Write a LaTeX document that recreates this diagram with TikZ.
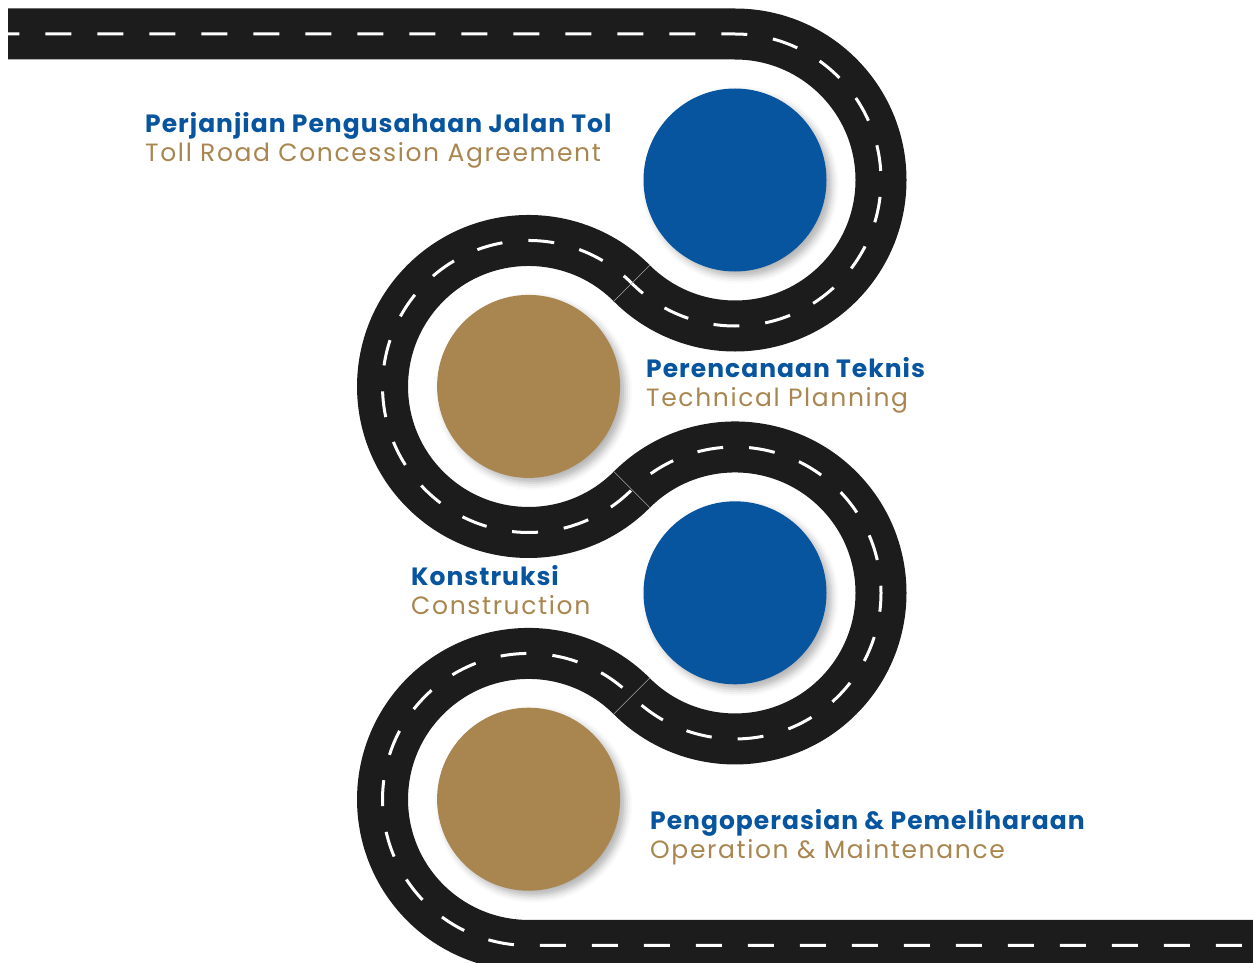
\documentclass[tikz,border=0pt]{standalone}
\usepackage{fontspec}
\setmainfont{Poppins}
\newfontfamily\titlefont[LetterSpace=4]{Poppins}
\newfontfamily\subtitlefont[LetterSpace=6.5]{Poppins}
\usetikzlibrary{calc, shadows.blur}

\definecolor{roadblack}{HTML}{1C1C1C}
\definecolor{tollblue}{HTML}{07549F}
\definecolor{tollgold}{HTML}{A98650}

\tikzset{
	road/.style={draw=roadblack, line width=51pt},
	lane/.style={draw=white, line width=3pt, dash pattern=on 26pt off 26pt, dash phase=14.7pt},
	seam/.style={draw=gray!70, line width=0.6pt},
	stop/.style={circle, minimum size=183pt, inner sep=0pt,
		blur shadow={shadow xshift=5pt, shadow yshift=-5pt, shadow blur radius=7pt, shadow opacity=30}},
	title/.style={anchor=base west, inner sep=0pt, text=tollblue, font=\titlefont\fontsize{25}{29}\selectfont\bfseries},
	subtitle/.style={anchor=base west, inner sep=0pt, text=tollgold, font=\subtitlefont\fontsize{25}{29}\selectfont},
}

\newcommand\roadpath{(road-start) -- (bend-1 |- road-start)
	arc[start angle=-90, end angle=135, radius=146]
	arc[start angle=-45, end angle=-315, radius=146]
	arc[start angle=225, end angle=495, radius=146]
	arc[start angle=-45, end angle=-270, radius=146]
	-- ++(740,0)}

\begin{document}
\begin{tikzpicture}[x=1pt, y=-1pt]
	\useasboundingbox (0,0) rectangle (1253,963);

	\coordinate (road-start) at (8,34);
	\foreach \x/\y [count=\k] in {735/180, 528.6/386.4, 735/592.8, 528.6/799.2}
	\coordinate (bend-\k) at (\x,\y);

	\draw [road] \roadpath;
	\draw [lane] \roadpath;

	\foreach \i [evaluate=\i as \j using int(\i+1)] in {1,2,3}
	\draw [seam] ($(bend-\i)!120pt!(bend-\j)$) -- ($(bend-\j)!120pt!(bend-\i)$);

	\foreach \c [count=\k] in {tollblue, tollgold, tollblue, tollgold}
	\node [stop, fill=\c] (stop-\k) at (bend-\k) {};

	\foreach \t/\s/\x/\y [count=\k] in {
		Perjanjian Pengusahaan Jalan Tol/Toll Road Concession Agreement/145/132,
		Perencanaan Teknis/Technical Planning/646/377,
		Konstruksi/Construction/411/585,
		Pengoperasian \& Pemeliharaan/Operation \& Maintenance/650/829}
	{
		\node [title] (title-\k) at (\x,\y) {\t};
		\node [subtitle] (subtitle-\k) at ([yshift=-29pt]title-\k.base west) {\s};
	}
\end{tikzpicture}
\end{document}
